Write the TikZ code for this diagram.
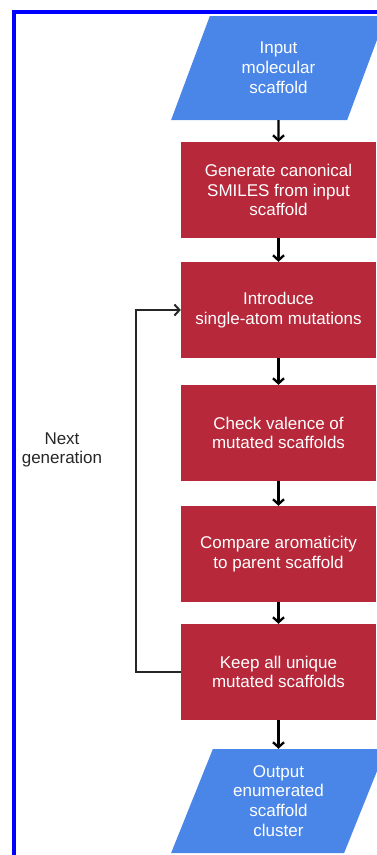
\documentclass[tikz,border=0pt]{standalone}
\usepackage{fontspec}
\setmainfont{Liberation Sans}
\usetikzlibrary{arrows.meta,positioning}
\usetikzlibrary{shapes.geometric}
\definecolor{stepred}{RGB}{182,40,58}
\definecolor{ioblue}{RGB}{74,134,232}
\begin{document}
\begin{tikzpicture}[x=1pt,y=-1pt,
every node/.style={font=\fontsize{17}{19.8}\selectfont,align=center},
stepbox/.style={rectangle,fill=stepred,text=white,minimum width=195pt,minimum height=96pt,inner sep=0pt},
iobox/.style={trapezium,trapezium left angle=68,trapezium right angle=112,trapezium stretches=true,
  fill=ioblue,text=white,minimum width=215pt,minimum height=104pt,inner sep=0pt},
arr/.style={line width=2.3pt,-{Straight Barb[length=5pt,width=11pt]}}]
\clip (0,0) rectangle (377,855);
\draw[blue,line width=4.5pt] (14,12) rectangle (420,900);
\node[iobox] (In) at (278.5,68) {Input\\molecular\\scaffold};
\node[stepbox] (B1) at (278.5,190) {Generate canonical\\SMILES from input\\scaffold};
\node[stepbox] (B2) at (278.5,310) {Introduce\\single-atom mutations};
\node[stepbox] (B3) at (278.5,433) {Check valence of\\mutated scaffolds};
\node[stepbox] (B4) at (278.5,554) {Compare aromaticity\\to parent scaffold};
\node[stepbox] (B5) at (278.5,672) {Keep all unique\\mutated scaffolds};
\node[iobox] (Out) at (278.5,801) {Output\\enumerated\\scaffold\\cluster};
\node[text=black!85] (NG) at (62,450) {Next\\generation};
\draw[arr] (In)--(B1);
\draw[arr] (B1)--(B2);
\draw[arr] (B2)--(B3);
\draw[arr] (B3)--(B4);
\draw[arr] (B4)--(B5);
\draw[arr] (B5)--(Out);
\draw[arr,black!85,line width=2pt] (B5.west)--++(-45,0)|-(B2.west);
\end{tikzpicture}
\end{document}
